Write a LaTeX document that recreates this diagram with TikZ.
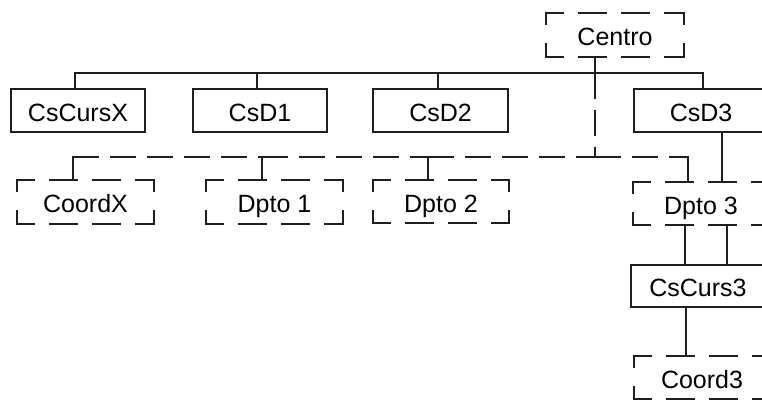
\documentclass[tikz,border=0pt]{standalone}
\usepackage{fontspec}
\setmainfont{Liberation Sans}
\begin{document}
\begin{tikzpicture}[x=1pt,y=-1pt,
  ln/.style={draw=black!88, line width=2pt},
  box/.style={ln, minimum width=134pt, minimum height=42pt, inner sep=0pt,
    font=\fontsize{25}{30}\selectfont, text height=22pt, text depth=1pt},
  dbox/.style={box, draw=none},
  conn/.style={ln, line cap=rect},
  dline/.style={ln, dash pattern=on 26pt off 11pt},
  hside/.style={ln, line cap=rect, dash pattern=on 27pt off 16pt, dash phase=10pt},
  vside/.style={ln, line cap=rect, dash pattern=on 11pt off 20pt}]
\useasboundingbox (0,0) rectangle (762,400);
\clip (0,0) rectangle (762,400);

% nodes
\node[dbox, minimum width=136pt] (centro) at (615,35) {Centro};
\node[box, minimum height=43pt] (cscursx) at (78,110.5) {CsCursX};
\node[box, minimum height=43pt] (csd1) at (260,110.5) {CsD1};
\node[box, minimum height=43pt, minimum width=135pt] (csd2) at (440.5,110.5) {CsD2};
\node[box, minimum height=43pt] (csd3) at (701,110.5) {CsD3};
\node[dbox, minimum width=135pt] (coordx) at (85.5,202) {CoordX};
\node[dbox, minimum width=135pt] (dpto1) at (274.5,202) {Dpto 1};
\node[dbox, minimum height=41pt] (dpto2) at (441,201.5) {Dpto 2};
\node[dbox, minimum height=41pt] (dpto3) at (701,203.5) {Dpto 3};
\node[box] (cscurs3) at (698,286) {CsCurs3};
\node[dbox, minimum height=41pt] (coord3) at (702,377.5) {Coord3};

% dashed borders
\foreach \n in {centro,coordx,dpto1,dpto2,dpto3,coord3}{
  \draw[hside] (\n.north west) -- (\n.north east);
  \draw[hside] (\n.south west) -- (\n.south east);
  \draw[vside] (\n.north west) -- (\n.south west);
  \draw[vside] (\n.north east) -- (\n.south east);
}

% solid tree
\coordinate (tC) at (595,72.5);
\coordinate (t0) at (75,72.5);
\coordinate (t1) at (257,72.5);
\coordinate (t2) at (438,72.5);
\coordinate (t3) at (703,72.5);
\draw[conn] (centro.south -| tC) -- (tC);
\draw[ln] (cscursx.north -| t0) -- (t0) -- (t3) -- (csd3.north -| t3);
\draw[conn] (t1) -- (csd1.north -| t1);
\draw[conn] (t2) -- (csd2.north -| t2);

% dashed tree
\coordinate (dC) at (595,157);
\coordinate (d0) at (73,157);
\coordinate (d1) at (262,157);
\coordinate (d2) at (428,157);
\coordinate (d3) at (688,157);
\draw[dline] (tC) -- (dC);
\draw[dline] (d0) -- (d1);
\draw[dline] (d1) -- (d2);
\draw[dline] (d2) -- (dC);
\draw[dline] (dC) -- (d3);
\draw[conn] (d0) -- (coordx.north -| d0);
\draw[conn] (d1) -- (dpto1.north -| d1);
\draw[conn] (d2) -- (dpto2.north -| d2);
\draw[conn] (d3) -- (dpto3.north -| d3);

% right column
\coordinate (r0) at (722,0);
\coordinate (r1) at (685,0);
\coordinate (r2) at (727,0);
\coordinate (r3) at (686,0);
\draw[conn] (csd3.south -| r0) -- (dpto3.north -| r0);
\draw[conn] (dpto3.south -| r1) -- (cscurs3.north -| r1);
\draw[conn] (dpto3.south -| r2) -- (cscurs3.north -| r2);
\draw[conn] (cscurs3.south -| r3) -- (coord3.north -| r3);
\end{tikzpicture}
\end{document}
